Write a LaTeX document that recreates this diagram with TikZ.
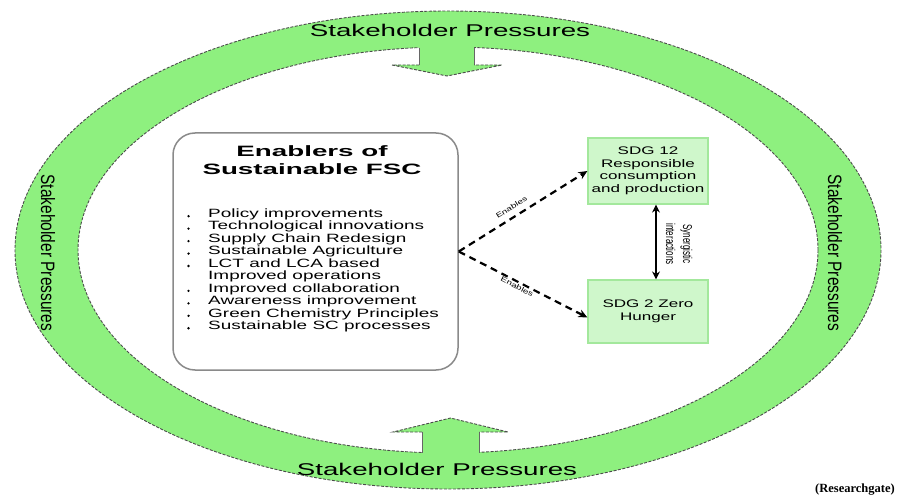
\documentclass[tikz,border=0pt]{standalone}
\usepackage{fontspec}
\usepackage{graphicx}
\setmainfont{Liberation Sans}
\newfontfamily\serifbf{Liberation Serif}
\usetikzlibrary{arrows.meta}
\definecolor{ringgreen}{HTML}{8EF07F}
\definecolor{sdgfill}{HTML}{CFF7CB}
\definecolor{sdgdraw}{HTML}{A3E89C}
\definecolor{boxgray}{HTML}{8A8A8A}
\newcommand\fs[1]{\fontsize{#1}{#1}\selectfont}
\newcommand\hs[2]{\scalebox{#1}[1]{#2}}
\newcommand\vs[2]{\scalebox{1}[#1]{#2}}
\begin{document}
\begin{tikzpicture}[x=1pt,y=-1pt,
  ringline/.style={draw=black!70, line width=0.9pt, dash pattern=on 3pt off 1.5pt},
  arrline/.style={draw=black!60, line width=0.9pt},
  lbl/.style={inner sep=0pt, text=black},
  sdgbox/.style={draw=sdgdraw, fill=sdgfill, line width=1.2pt, minimum width=120pt, inner sep=0pt},
  dasharr/.style={line width=2.2pt, dash pattern=on 7pt off 5pt, -{Stealth[length=9pt,width=8pt]}},
  bul/.style={fill=black}
]
\useasboundingbox (0,0) rectangle (900,500);
% ring
\fill[ringgreen, even odd rule] (448,250) ellipse [x radius=433, y radius=239] (448,250) ellipse [x radius=370, y radius=203];
\draw[ringline] (448,250) ellipse [x radius=433, y radius=239];
\draw[ringline] (448,250) ellipse [x radius=370, y radius=203];
% top arrow
\fill[ringgreen] (419,40) -- (419,65) -- (392,65) -- (447,76) -- (502,65) -- (474,65) -- (474,40) -- cycle;
\draw[arrline] (419,48) -- (419,65);
\draw[arrline] (474,48) -- (474,65);
\draw[ringline] (419,65) -- (392,65) -- (447,76) -- (502,65) -- (474,65);
% bottom arrow
\fill[ringgreen] (422,460) -- (422,432) -- (393,432) -- (450.5,418) -- (508,432) -- (479.5,432) -- (479.5,460) -- cycle;
\draw[arrline] (422,452.5) -- (422,432);
\draw[arrline] (479.5,452.5) -- (479.5,432);
\draw[ringline] (422,432) -- (393,432) -- (450.5,418) -- (508,432) -- (479.5,432);
% ring texts
\node[lbl, anchor=base] (topt) at (450,37) {\fs{17}\hs{1.63}{Stakeholder Pressures}};
\node[lbl, anchor=base] (bott) at (437,475) {\fs{17}\hs{1.63}{Stakeholder Pressures}};
\node[lbl, rotate=-90] (leftt) at (48,253) {\fs{15.5}\vs{1.25}{Stakeholder Pressures}};
\node[lbl, rotate=-90] (rightt) at (835,253) {\fs{15.5}\vs{1.25}{Stakeholder Pressures}};
% central box
\node[draw=boxgray, fill=white, line width=1.5pt, rounded corners=22pt, minimum width=285pt, minimum height=237pt, inner sep=0pt] (enab) at (315.5,251.5) {};
\node[lbl, anchor=base] (t1) at (312,157) {\fs{15}\bfseries\hs{1.85}{Enablers of}};
\node[lbl, anchor=base] (t2) at (312,175) {\fs{15}\bfseries\hs{1.85}{Sustainable FSC}};
\node[lbl, anchor=base west] (l1) at (208,217.5) {\fs{12}\hs{1.58}{Policy improvements}};
\node[lbl, anchor=base west] (l2) at (208,229.95) {\fs{12}\hs{1.58}{Technological innovations}};
\node[lbl, anchor=base west] (l3) at (208,242.4) {\fs{12}\hs{1.58}{Supply Chain Redesign}};
\node[lbl, anchor=base west] (l4) at (208,254.85) {\fs{12}\hs{1.58}{Sustainable Agriculture}};
\node[lbl, anchor=base west] (l5) at (208,267.3) {\fs{12}\hs{1.58}{LCT and LCA based}};
\node[lbl, anchor=base west] (l6) at (208,279.75) {\fs{12}\hs{1.58}{Improved operations}};
\node[lbl, anchor=base west] (l7) at (208,292.2) {\fs{12}\hs{1.58}{Improved collaboration}};
\node[lbl, anchor=base west] (l8) at (208,304.65) {\fs{12}\hs{1.58}{Awareness improvement}};
\node[lbl, anchor=base west] (l9) at (208,317.1) {\fs{12}\hs{1.58}{Green Chemistry Principles}};
\node[lbl, anchor=base west] (l10) at (208,329.55) {\fs{12}\hs{1.58}{Sustainable SC processes}};
\foreach \b in {217.5,229.95,242.4,254.85,267.3,292.2,304.65,317.1,329.55}
  \fill[bul] (188.5,\b-1.3) circle (1.3);
% SDG boxes
\node[sdgbox, minimum height=66pt] (sdg12) at (648,171) {\fontsize{11}{12.5}\selectfont\hs{1.55}{\begin{tabular}{@{}c@{}}SDG 12\\Responsible\\consumption\\and production\end{tabular}}};
\node[sdgbox, minimum height=63pt] (sdg2) at (648,311.5) {\fontsize{11}{13}\selectfont\hs{1.55}{\begin{tabular}{@{}c@{}}SDG 2 Zero\\Hunger\end{tabular}}};
% connectors
\draw[line width=2.4pt, {Stealth[length=8pt,width=8pt]}-{Stealth[length=8pt,width=8pt]}] ([xshift=8pt]sdg12.south) -- ([xshift=8pt]sdg2.north);
\node[lbl, rotate=-90] (syn) at (678,244) {\fontsize{8}{10.5}\selectfont\vs{1.6}{\begin{tabular}{@{}c@{}}Synergistic\\interactions\end{tabular}}};
\draw[dasharr] (enab.east) -- (sdg12.west) node[lbl, sloped, pos=0.45, above=6pt] {\fs{7}\hs{1.4}{Enables}};
\draw[dasharr] (enab.east) -- ([yshift=-6pt]sdg2.west) node[lbl, sloped, pos=0.47, below=1pt] {\fs{7}\hs{1.4}{Enables}};
% source
\node[lbl] (rg) at (855,490) {\serifbf\bfseries\fs{12.5}(Researchgate)};
\end{tikzpicture}
\end{document}
